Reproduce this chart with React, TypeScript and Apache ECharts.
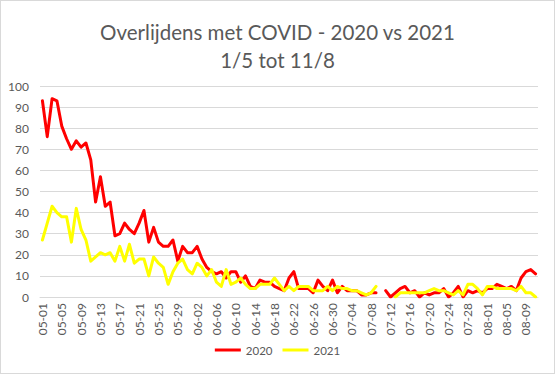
import React, { useEffect, useRef } from "react";
import * as echarts from "echarts";

const monthLengths: [number, number][] = [
  [5, 31],
  [6, 30],
  [7, 31],
  [8, 11],
];
const categories: string[] = [];
for (const [m, days] of monthLengths) {
  for (let d = 1; d <= days; d++) {
    categories.push(`${String(m).padStart(2, "0")}-${String(d).padStart(2, "0")}`);
  }
}

const deaths2020: (number | null)[] = [
  93, 76, 94, 93, 81, 75, 70, 74, 71, 73,
  65, 45, 57, 43, 45, 29, 30, 35, 32, 30,
  35, 41, 26, 33, 26, 24, 24, 27, 17, 24,
  21, 21, 24, 18, 14, 12, 11, 12, 9, 12,
  12, 7, 10, 5, 4, 8, 7, 7, 5, 4,
  3, 9, 12, 4, 4, 4, 2, 8, 5, 3,
  8, 2, 5, 3, 3, 3, 1, 1, 2, 2,
  null, 3, 0, 2, 4, 5, 2, 3, 0, 2,
  1, 2, 2, 4, 0, 2, 5, 0, 3, 2,
  3, 2, 4, 4, 6, 5, 4, 5, 3, 9,
  12, 13, 11,
];

const deaths2021: (number | null)[] = [
  27, 35, 43, 40, 38, 38, 26, 42, 32, 27,
  17, 19, 21, 20, 21, 17, 24, 17, 25, 16,
  18, 18, 10, 19, 16, 14, 6, 12, 16, 18,
  13, 11, 16, 14, 10, 13, 7, 5, 13, 6,
  7, 9, 6, 4, 4, 6, 6, 6, 9, 6,
  3, 5, 3, 5, 5, 5, 3, 3, 3, 5,
  3, 5, 4, 4, 3, 3, 2, 1, 2, 5,
  null, null, null, 0, 2, 2, 2, 2, 2, 2,
  3, 4, 3, 3, 2, 1, 3, 1, 6, 6,
  4, 1, 5, 5, 4, 4, 4, 4, 3, 5,
  2, 2, 0,
];

const FONT = "Lato, 'Liberation Sans', sans-serif";

export default function App() {
  const ref = useRef<HTMLDivElement>(null);
  useEffect(() => {
    document.body.style.margin = "0";
    if (!ref.current) return;
    const chart = echarts.init(ref.current, undefined, { renderer: "svg" });
    chart.setOption({
      animation: false,
      backgroundColor: "#ffffff",
      title: {
        text: "Overlijdens met COVID - 2020 vs 2021\n1/5 tot 11/8",
        left: "center",
        top: 12,
        textStyle: {
          fontFamily: FONT,
          fontSize: 20.5,
          fontWeight: "normal",
          color: "#595959",
          lineHeight: 28,
        },
      },
      legend: {
        bottom: 12,
        left: "center",
        itemWidth: 26,
        itemHeight: 3,
        itemGap: 10,
        icon: "rect",
        textStyle: { fontFamily: FONT, fontSize: 11.5, color: "#595959" },
        data: ["2020", "2021"],
      },
      grid: { left: 39, right: 16, top: 85, bottom: 76, containLabel: false },
      xAxis: {
        type: "category",
        data: categories,
        boundaryGap: true,
        axisLine: { lineStyle: { color: "#d9d9d9" } },
        axisTick: { show: false },
        axisLabel: {
          interval: 3,
          rotate: 90,
          margin: 6,
          fontFamily: FONT,
          fontSize: 12,
          color: "#595959",
        },
      },
      yAxis: {
        type: "value",
        min: 0,
        max: 100,
        interval: 10,
        axisLine: { show: false },
        axisTick: { show: false },
        splitLine: { lineStyle: { color: "#d9d9d9", width: 1 } },
        axisLabel: {
          margin: 11,
          fontFamily: FONT,
          fontSize: 12,
          color: "#595959",
        },
      },
      series: [
        {
          name: "2020",
          type: "line",
          data: deaths2020,
          showSymbol: false,
          symbol: "none",
          connectNulls: false,
          color: "#ff0000",
          lineStyle: { color: "#ff0000", width: 3, join: "round", cap: "round" },
        },
        {
          name: "2021",
          type: "line",
          data: deaths2021,
          showSymbol: false,
          symbol: "none",
          connectNulls: false,
          color: "#ffff00",
          lineStyle: { color: "#ffff00", width: 3, join: "round", cap: "round" },
        },
      ],
    });
    return () => chart.dispose();
  }, []);
  return (
    <div
      ref={ref}
      style={{
        position: "absolute",
        left: 0,
        top: 0,
        width: 555,
        height: 374,
        boxSizing: "border-box",
        border: "1px solid #d9d9d9",
      }}
    />
  );
}
